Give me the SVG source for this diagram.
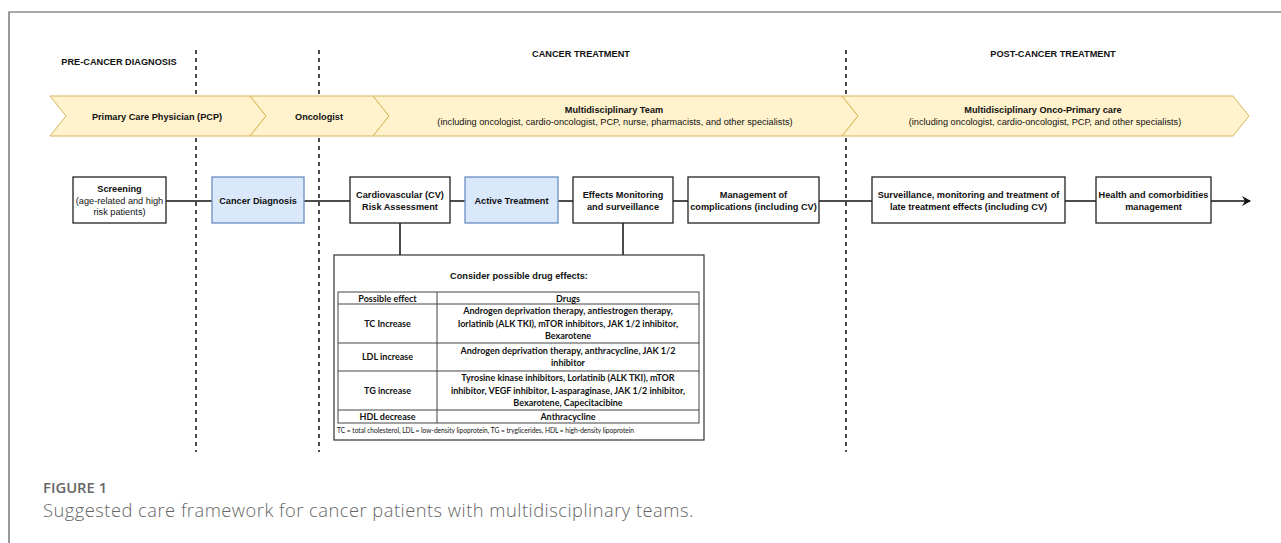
<svg xmlns="http://www.w3.org/2000/svg" width="1281" height="543" viewBox="0 0 1281 543">
<defs>
<style>
.b{font-family:"Liberation Sans",Arial,sans-serif;font-size:9.2px;font-weight:bold;fill:#111;text-anchor:middle}
.r{font-family:"Liberation Sans",Arial,sans-serif;font-size:9.2px;fill:#111;text-anchor:middle}
.chev{fill:#FFF2CC;stroke:#D6B656;stroke-width:1}
.box{fill:#fff;stroke:#222;stroke-width:1.3}
.blue{fill:#DAE8FC;stroke:#6C8EBF;stroke-width:1.3}
.dash{stroke:#111;stroke-width:1.5;stroke-dasharray:4 4;fill:none}
.con{stroke:#111;stroke-width:1.5;fill:none}
.t{font-family:Lato,"Open Sans",sans-serif;font-size:9px;font-weight:bold;fill:#111;text-anchor:middle}
.tl{stroke:#444;stroke-width:1}
</style>
<marker id="arr" markerWidth="10" markerHeight="10" refX="8" refY="5" orient="auto" markerUnits="userSpaceOnUse">
<path d="M0,0 L9,5 L0,10 L3,5 Z" fill="#111"/>
</marker>
</defs>
<rect width="1281" height="543" fill="#fff"/>
<path d="M9,543 L9,12 L1281,12" fill="none" stroke="#555" stroke-width="1.2"/>

<g id="phases">
<text class="b" x="119" y="65">PRE-CANCER DIAGNOSIS</text>
<text class="b" x="581" y="57">CANCER TREATMENT</text>
<text class="b" x="1053" y="57">POST-CANCER TREATMENT</text>
</g>

<g id="dividers">
<line class="dash" x1="196" y1="50" x2="196" y2="452"/>
<line class="dash" x1="319" y1="50" x2="319" y2="452"/>
<line class="dash" x1="846" y1="50" x2="846" y2="452"/>
</g>

<g id="chevron-pcp">
<path class="chev" d="M50,96 L250,96 L266,116 L250,136 L50,136 L66,116 Z"/>
<text class="b" x="157" y="119.5">Primary Care Physician (PCP)</text>
</g>
<g id="chevron-oncologist">
<path class="chev" d="M250,96 L373,96 L389,116 L373,136 L250,136 L266,116 Z"/>
<text class="b" x="319" y="119.5">Oncologist</text>
</g>
<g id="chevron-mdt">
<path class="chev" d="M373,96 L842,96 L858,116 L842,136 L373,136 L389,116 Z"/>
<text class="b" x="614" y="113">Multidisciplinary Team</text>
<text class="r" x="615" y="125">(including oncologist, cardio-oncologist, PCP, nurse, pharmacists, and other specialists)</text>
</g>
<g id="chevron-onco-primary">
<path class="chev" d="M842,96 L1233,96 L1249,116 L1233,136 L842,136 L858,116 Z"/>
<text class="b" x="1043" y="113">Multidisciplinary Onco-Primary care</text>
<text class="r" x="1045" y="125">(including oncologist, cardio-oncologist, PCP, and other specialists)</text>
</g>

<g id="connectors">
<line class="con" x1="166" y1="201" x2="212" y2="201"/>
<line class="con" x1="304" y1="201" x2="350" y2="201"/>
<line class="con" x1="450" y1="201" x2="465" y2="201"/>
<line class="con" x1="558" y1="201" x2="573" y2="201"/>
<line class="con" x1="673" y1="201" x2="688" y2="201"/>
<line class="con" x1="819" y1="201" x2="872" y2="201"/>
<line class="con" x1="1065" y1="201" x2="1096" y2="201"/>
<line class="con" x1="1211" y1="201" x2="1250" y2="201" marker-end="url(#arr)"/>
<line class="con" x1="400" y1="223" x2="400" y2="255"/>
<line class="con" x1="623" y1="223" x2="623" y2="255"/>
</g>

<g id="screening">
<rect class="box" x="73" y="177" width="93" height="46"/>
<text class="b" x="119.5" y="192">Screening</text>
<text class="r" x="119.5" y="203.5">(age-related and high</text>
<text class="r" x="119.5" y="215">risk patients)</text>
</g>
<g id="cancer-diagnosis">
<rect class="blue" x="212" y="177" width="92" height="46"/>
<text class="b" x="258" y="203.5">Cancer Diagnosis</text>
</g>
<g id="cv-risk">
<rect class="box" x="350" y="177" width="100" height="46"/>
<text class="b" x="400" y="198">Cardiovascular (CV)</text>
<text class="b" x="400" y="209.5">Risk Assessment</text>
</g>
<g id="active-treatment">
<rect class="blue" x="465" y="177" width="93" height="46"/>
<text class="b" x="511.5" y="203.5">Active Treatment</text>
</g>
<g id="effects-monitoring">
<rect class="box" x="573" y="177" width="100" height="46"/>
<text class="b" x="623" y="198">Effects Monitoring</text>
<text class="b" x="623" y="209.5">and surveillance</text>
</g>
<g id="management">
<rect class="box" x="688" y="177" width="131" height="46"/>
<text class="b" x="753.5" y="198">Management of</text>
<text class="b" x="753.5" y="209.5">complications (including CV)</text>
</g>
<g id="surveillance">
<rect class="box" x="872" y="177" width="193" height="46"/>
<text class="b" x="968.5" y="198">Surveillance, monitoring and treatment of</text>
<text class="b" x="968.5" y="209.5">late treatment effects (including CV)</text>
</g>
<g id="health">
<rect class="box" x="1096" y="177" width="115" height="46"/>
<text class="b" x="1153.5" y="198">Health and comorbidities</text>
<text class="b" x="1153.5" y="209.5">management</text>
</g>

<g id="drug-effects">
<rect x="334" y="255" width="370" height="185" fill="#fff" stroke="#333" stroke-width="1.2"/>
<text class="b" x="519" y="279">Consider possible drug effects:</text>
<rect x="338" y="292" width="361" height="131" fill="none" stroke="#444" stroke-width="1"/>
<line class="tl" x1="437" y1="292" x2="437" y2="423"/>
<line class="tl" x1="338" y1="304" x2="699" y2="304"/>
<line class="tl" x1="338" y1="343" x2="699" y2="343"/>
<line class="tl" x1="338" y1="371" x2="699" y2="371"/>
<line class="tl" x1="338" y1="410" x2="699" y2="410"/>
<text class="t" x="387.5" y="301.5">Possible effect</text>
<text class="t" x="568" y="301.5">Drugs</text>
<text class="t" x="387.5" y="326.5">TC Increase</text>
<text class="t" x="568" y="314">Androgen deprivation therapy, antiestrogen therapy,</text>
<text class="t" x="568" y="326.5">lorlatinib (ALK TKI), mTOR inhibitors, JAK 1/2 inhibitor,</text>
<text class="t" x="568" y="339">Bexarotene</text>
<text class="t" x="387.5" y="360">LDL increase</text>
<text class="t" x="568" y="354">Androgen deprivation therapy, anthracycline, JAK 1/2</text>
<text class="t" x="568" y="366">inhibitor</text>
<text class="t" x="387.5" y="393.5">TG increase</text>
<text class="t" x="568" y="381">Tyrosine kinase inhibitors, Lorlatinib (ALK TKI), mTOR</text>
<text class="t" x="568" y="393.5">inhibitor, VEGF inhibitor, L-asparaginase, JAK 1/2 inhibitor,</text>
<text class="t" x="568" y="406">Bexarotene, Capecitacibine</text>
<text class="t" x="387.5" y="419.5">HDL decrease</text>
<text class="t" x="568" y="419.5">Anthracycline</text>
<text x="337" y="433" font-family="Lato,'Open Sans',sans-serif" font-size="6.6px" fill="#111">TC = total cholesterol, LDL = low-density lipoprotein, TG = tryglicerides, HDL = high-density lipoprotein</text>
</g>

<g id="caption">
<text x="43" y="493" font-family="'Open Sans',sans-serif" font-size="14.8px" font-weight="600" fill="#666">FIGURE 1</text>
<text x="43" y="517" font-family="'Open Sans',sans-serif" font-size="18.3px" font-weight="300" letter-spacing="0.5" fill="#666">Suggested care framework for cancer patients with multidisciplinary teams.</text>
</g>
</svg>
